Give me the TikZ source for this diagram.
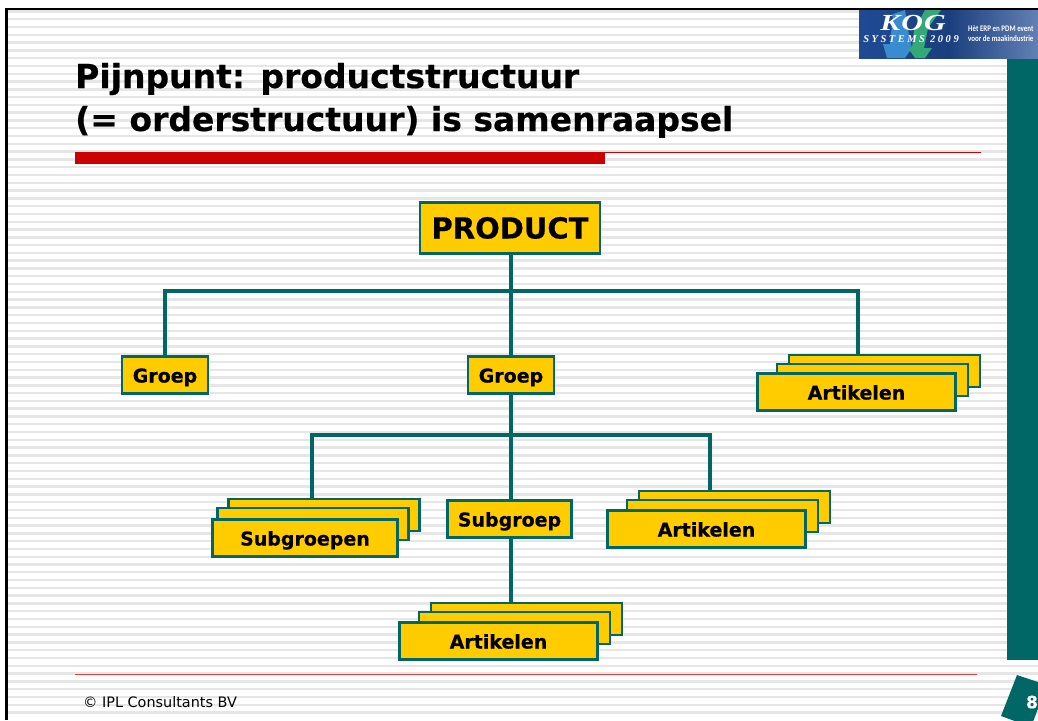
\documentclass[tikz,border=0pt]{standalone}
\usepackage{fontspec}
\setmainfont[BoldFeatures={FakeBold=0.4}]{DejaVu Sans}
\newfontfamily\logofont[LetterSpace=4]{Liberation Serif}
\newfontfamily\logowide[LetterSpace=24]{Liberation Serif}
\newfontfamily\logosmall[FakeStretch=0.82]{Carlito}
\definecolor{kogteal}{HTML}{006666}
\definecolor{kogyellow}{HTML}{FFCC00}
\definecolor{kogred}{HTML}{CC0000}
\definecolor{kogstripe}{HTML}{E6E6E6}
\definecolor{kogblue}{HTML}{1F4A94}
\definecolor{kogsky}{HTML}{3A8CD0}
\definecolor{koggreen}{HTML}{35A878}
\tikzset{
  box/.style={draw=kogteal,line width=2.7pt,fill=kogyellow,inner sep=0pt,text height=15pt,text depth=0pt,font=\bfseries\fontsize{19}{23}\selectfont},
  wire/.style={draw=kogteal,line width=3.3pt},
  logotext/.style={white,anchor=west,inner sep=0pt,font=\logosmall\bfseries\fontsize{8.5}{10}\selectfont},
  titletext/.style={anchor=base west,inner sep=0pt,font=\bfseries\fontsize{33}{38}\selectfont},
}
\begin{document}
\begin{tikzpicture}[x=1pt,y=-1pt]
    \useasboundingbox (0,0) rectangle (1038,720);
    \fill[white] (0,0) rectangle (1038,720);

    % striped slide background
    \foreach \i in {0,...,90}
      \fill[kogstripe] (7,{11.2+7.79*\i-1}) rectangle (1038,{11.2+7.79*\i+1.4});
    \fill[white] (0,0) rectangle (1038,9);
    \fill[white] (0,718.5) rectangle (1038,720);
    \draw[black,line width=2.5pt] (6.5,720) -- (6.5,9) -- (1038,9);

    % side bar and page number
    \fill[kogteal] (1007,58) rectangle (1038,660);
    \fill[kogteal] (1017,675) -- (1047,685) -- (1031,727) -- (1001,716) -- cycle;
    \node[white,font=\bfseries\fontsize{17}{20}\selectfont] (pagenr) at (1032,702) {8};

    % logo
    \begin{scope}
      \clip (859,10) rectangle (1038,58);
      \fill[left color=kogblue,right color=kogblue!70!white,middle color=kogblue!85!black] (859,10) rectangle (1038,58);
      \fill[kogsky] (893,14) -- (905,10) -- (908,30) -- (912,48) -- (905,58) -- (887,58) -- (883,44) -- (890,44) -- cycle;
      \fill[koggreen] (925,10) -- (941,10) -- (928,28) -- (924,48) -- (932,48) -- (925,58) -- (915,58) -- (908,48) -- (912,48) -- (914,30) -- cycle;
    \end{scope}
    \node[white,inner sep=0pt,xscale=1.3,transform shape,font=\logofont\itshape\bfseries\fontsize{23}{23}\selectfont] (logoname) at (913,23) {KOG};
    \node[white,inner sep=0pt,font=\logowide\itshape\bfseries\fontsize{10.5}{10.5}\selectfont] (logoyear) at (911,39) {SYSTEMS 2009};
    \node[logotext] (logotop) at (968,29) {Hèt ERP en PDM event};
    \node[logotext] (logobot) at (968,39) {voor de maakindustrie};

    % title
    \node[titletext] (title1) at (75,88) {Pijnpunt: productstructuur};
    \node[titletext] (title2) at (75,131) {(= orderstructuur) is samenraapsel};
    \fill[kogred] (75,152) rectangle (981,153);
    \fill[kogred] (75,153) rectangle (605,164);

    % footer
    \fill[kogred!75!white] (75,673.5) rectangle (977,675);
    \node[anchor=west,inner sep=0pt,font=\fontsize{14.4}{18}\selectfont] (footer) at (83,702) {© IPL Consultants BV};

    % top of the tree
    \node[box,minimum width=180,minimum height=51,text height=21pt,font=\bfseries\fontsize{29}{34}\selectfont] (product) at (510,228) {PRODUCT};
    \node[box,minimum width=86,minimum height=37] (groepl) at (165,375) {Groep};
    \node[box,minimum width=86,minimum height=37] (groepm) at (511,375) {Groep};

    % stacks of articles
    \node[box,minimum width=191,minimum height=32] (art1c) at (884.5,371) {};
    \node[box,minimum width=191,minimum height=32] (art1b) at (872.5,380) {};
    \node[box,minimum width=198,minimum height=37] (art1a) at (856.5,392) {Artikelen};

    \node[box,minimum width=191,minimum height=32] (sub1c) at (324,515) {};
    \node[box,minimum width=191,minimum height=32] (sub1b) at (313,524) {};
    \node[box,minimum width=185,minimum height=37] (sub1a) at (305,538) {Subgroepen};

    \node[box,minimum width=124,minimum height=37] (subm) at (509.5,519) {Subgroep};

    \node[box,minimum width=191,minimum height=32] (art2c) at (734.5,507) {};
    \node[box,minimum width=191,minimum height=32] (art2b) at (722.5,516) {};
    \node[box,minimum width=198,minimum height=37] (art2a) at (706.5,529) {Artikelen};

    \node[box,minimum width=191,minimum height=32] (art3c) at (526.5,619) {};
    \node[box,minimum width=191,minimum height=32] (art3b) at (514.5,628) {};
    \node[box,minimum width=198,minimum height=37] (art3a) at (498.5,641) {Artikelen};

    % connectors
    \coordinate (busa) at (511,291);
    \coordinate (busb) at (511,435);
    \coordinate (art1top) at (858,355);
    \coordinate (sub1top) at (312,499);
    \coordinate (art2top) at (710,491);
    \draw[wire] (groepm |- product.south) -- (groepm);
    \draw[wire] (groepl) |- (busa) -| (art1top);
    \draw[wire] (groepm) -- (groepm |- subm.north);
    \draw[wire] (groepm |- subm.south) -- (groepm |- art3c.north);
    \draw[wire] (sub1top) |- (busb) -| (art2top);
\end{tikzpicture}
\end{document}
